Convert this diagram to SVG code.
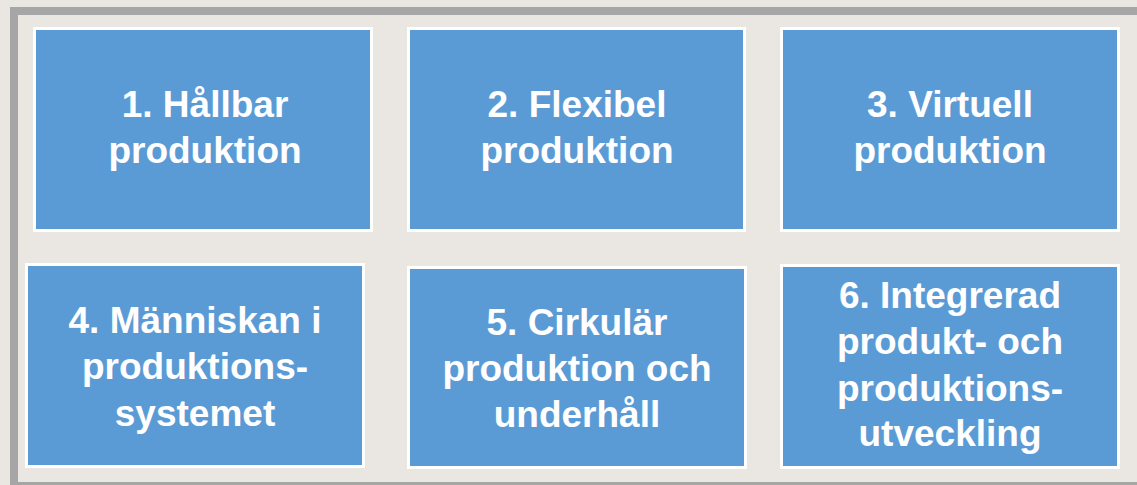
<svg xmlns="http://www.w3.org/2000/svg" width="1137" height="485" viewBox="0 0 1137 485">
<style>
.box{fill:#5B9BD5;stroke:#FFFFFF;stroke-width:3}
.lbl{font-family:"Liberation Sans",Arial,sans-serif;font-weight:bold;font-size:37px;fill:#FFFFFF;text-anchor:middle}
</style>
<rect x="0" y="0" width="1137" height="485" fill="#EAE6E2"/>
<rect id="frame" x="14" y="11" width="1200" height="475" fill="#EAE6E2" stroke="#A6A6A6" stroke-width="8"/>
<g id="node1">
<rect class="box" x="34.5" y="28.5" width="337" height="202"/>
<text class="lbl" x="205" y="117">1. Hållbar</text>
<text class="lbl" x="205" y="163">produktion</text>
</g>
<g id="node2">
<rect class="box" x="408.5" y="28.5" width="336" height="202"/>
<text class="lbl" x="577" y="117">2. Flexibel</text>
<text class="lbl" x="577" y="163">produktion</text>
</g>
<g id="node3">
<rect class="box" x="781.5" y="28.5" width="337" height="202"/>
<text class="lbl" x="950" y="117">3. Virtuell</text>
<text class="lbl" x="950" y="163">produktion</text>
</g>
<g id="node4">
<rect class="box" x="26.5" y="264.5" width="337" height="202"/>
<text class="lbl" x="195" y="333">4. Människan i</text>
<text class="lbl" x="195" y="379">produktions-</text>
<text class="lbl" x="195" y="426">systemet</text>
</g>
<g id="node5">
<rect class="box" x="408.5" y="267.5" width="337" height="200"/>
<text class="lbl" x="577" y="335">5. Cirkulär</text>
<text class="lbl" x="577" y="381">produktion och</text>
<text class="lbl" x="577" y="427">underhåll</text>
</g>
<g id="node6">
<rect class="box" x="781.5" y="265.5" width="337" height="202"/>
<text class="lbl" x="950" y="308">6. Integrerad</text>
<text class="lbl" x="950" y="354">produkt- och</text>
<text class="lbl" x="950" y="401">produktions-</text>
<text class="lbl" x="950" y="446">utveckling</text>
</g>
<g id="connectors"></g>
</svg>
